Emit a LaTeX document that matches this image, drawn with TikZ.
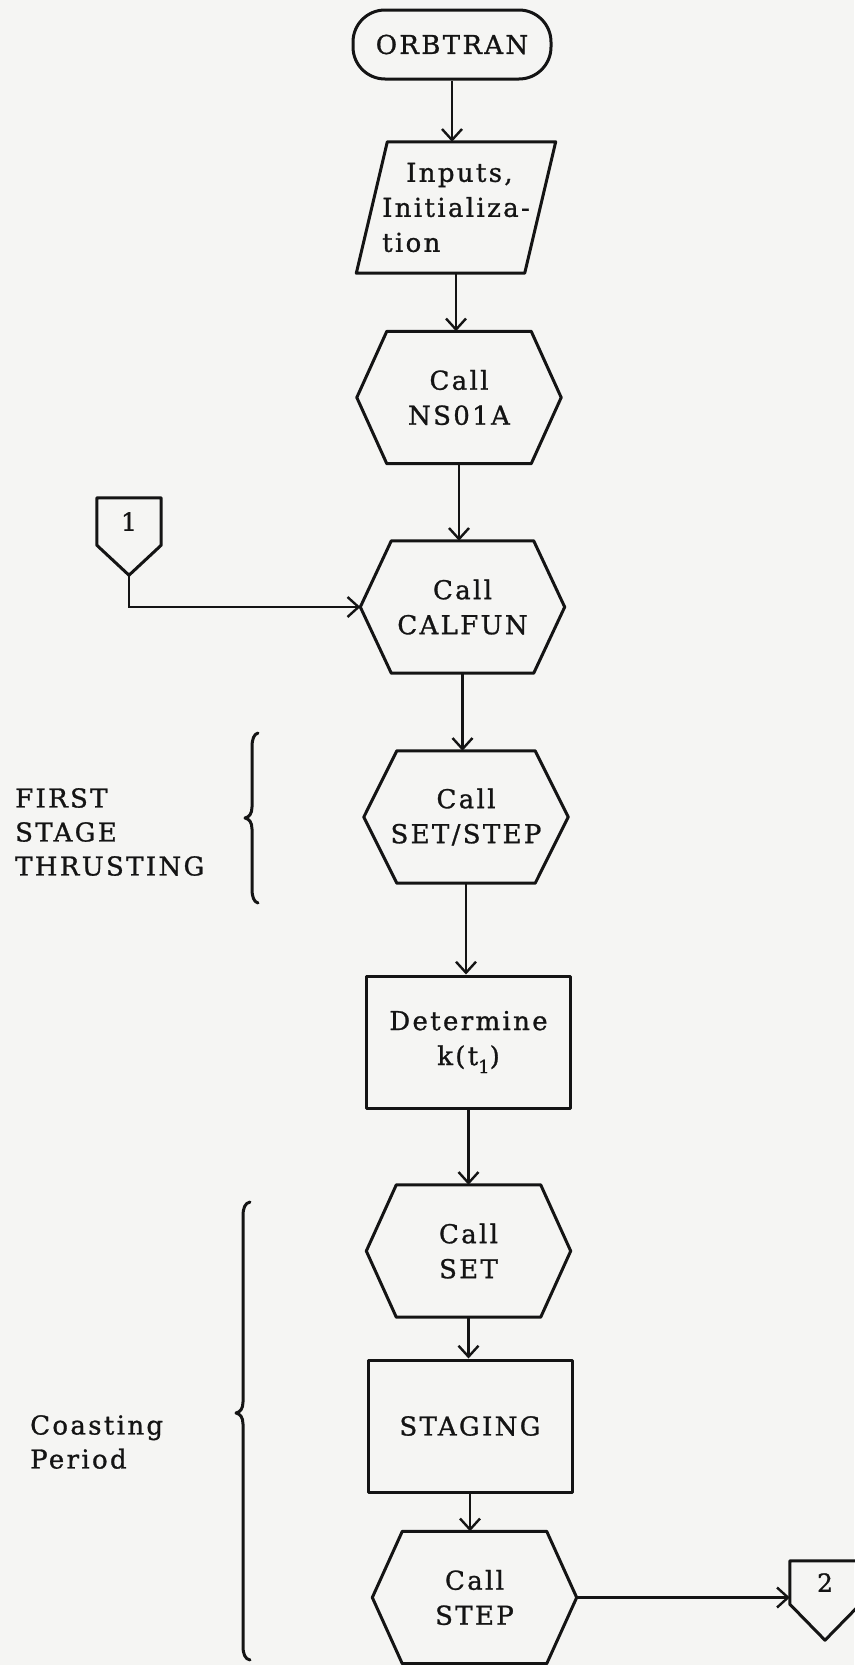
\documentclass[tikz,border=0pt]{standalone}
\usepackage{fontspec}
\setmainfont{DejaVu Serif}[LetterSpace=9,FakeBold=1]
\usetikzlibrary{arrows.meta}
\definecolor{paper}{RGB}{245,245,243}
\definecolor{ink}{RGB}{20,20,20}
\tikzset{
  shapeline/.style={draw=ink, line width=3pt, line join=round},
  flow/.style={draw=ink, line width=2.6pt, -{Straight Barb[length=11pt,width=20pt,line width=2.4pt]}},
  blk/.style={minimum width=204pt, minimum height=132pt, inner sep=0pt, align=center, text=ink, font=\fontsize{26}{35}\selectfont},
  lbl/.style={inner sep=0pt, align=left, anchor=west, text=ink, font=\fontsize{26}{34}\selectfont},
  conn/.style={inner sep=0pt, text=ink, font=\fontsize{25}{30}\selectfont},
}
\newcommand\myhex[2]{\draw[shapeline] ([shift={(#2,0)}]#1.north west) -- ([shift={(-#2,0)}]#1.north east) -- (#1.east) -- ([shift={(-#2,0)}]#1.south east) -- ([shift={(#2,0)}]#1.south west) -- (#1.west) -- cycle;}
\begin{document}
\begin{tikzpicture}[x=1pt,y=-1pt]
\fill[paper] (0,0) rectangle (854,1665);
\useasboundingbox (0,0) rectangle (854,1665);

% terminal
\node[blk, minimum width=198pt, minimum height=69pt, rounded corners=32pt, shapeline] (orb) at (452,44.5) {ORBTRAN};
% input parallelogram
\node[blk, minimum width=168pt, minimum height=131pt, align=left] (inp) at (456,207.5) {\hspace*{24pt}Inputs,\\Initializa-\\tion};
\draw[shapeline] ([shift={(15.5,0)}]inp.north west) -- ([shift={(15.5,0)}]inp.north east) -- ([shift={(-15.5,0)}]inp.south east) -- ([shift={(-15.5,0)}]inp.south west) -- cycle;
% hexagons and boxes
\node[blk] (nsa) at (459,397.5) {Call\\NS01A};
\myhex{nsa}{30}
\node[blk] (calf) at (462.5,607) {Call\\CALFUN};
\myhex{calf}{31}
\node[blk] (ss) at (466,817) {Call\\SET/STEP};
\myhex{ss}{33}
\node[blk, shapeline] (det) at (468.5,1042) {Determine\\k(t\raisebox{-8pt}{\fontsize{18}{18}\selectfont 1})};
\node[blk] (set) at (468.5,1251) {Call\\SET};
\myhex{set}{30}
\node[blk, shapeline] (stg) at (470,1426) {STAGING};
\node[blk] (stp) at (474.5,1597.5) {Call\\STEP};
\myhex{stp}{30}

% off-page connectors
\node[conn, minimum width=64pt, minimum height=47pt] (c1) at (129,521.5) {1};
\coordinate (c1p) at ([shift={(0,30)}]c1.south);
\draw[shapeline] (c1.north west) -- (c1.north east) -- (c1.south east) -- (c1p) -- (c1.south west) -- cycle;
\node[conn, minimum width=70pt, minimum height=43pt] (c2) at (825,1582.5) {2};
\coordinate (c2p) at ([shift={(0,36)}]c2.south);
\draw[shapeline] (c2.north west) -- (c2.north east) -- (c2.south east) -- (c2p) -- (c2.south west) -- cycle;

% connectors
\draw[flow] (orb.south) -- (orb.south |- inp.north);
\draw[flow] (inp.south) -- (inp.south |- nsa.north);
\draw[flow] (nsa.south) -- (nsa.south |- calf.north);
\draw[flow] (calf.south) -- (calf.south |- ss.north);
\draw[flow] (ss.south) -- (ss.south |- det.north);
\draw[flow] (det.south) -- (det.south |- set.north);
\draw[flow] (set.south) -- (set.south |- stg.north);
\draw[flow] (stg.south) -- (stg.south |- stp.north);
\draw[flow] (c1p) |- (calf.west);
\draw[flow] (stp.east) -- (stp.east -| c2.west);

% braces and labels
\draw[shapeline, line cap=round] (258,733) .. controls (254,734) and (252,739) .. (252,747) -- (252,807) .. controls (252,814) and (249,817) .. (245,818) .. controls (249,819) and (252,822) .. (252,829) -- (252,889) .. controls (252,897) and (254,902) .. (258,903);
\node[lbl] (fst) at (15,832) {FIRST\\STAGE\\THRUSTING};
\draw[shapeline, line cap=round] (250,1202) .. controls (245,1203) and (243,1208) .. (243,1216) -- (243,1402) .. controls (243,1409) and (240,1412) .. (236,1413) .. controls (240,1414) and (243,1417) .. (243,1424) -- (243,1646) .. controls (243,1654) and (245,1659) .. (250,1660);
\node[lbl] (cst) at (30,1442) {Coasting\\Period};
\end{tikzpicture}
\end{document}
